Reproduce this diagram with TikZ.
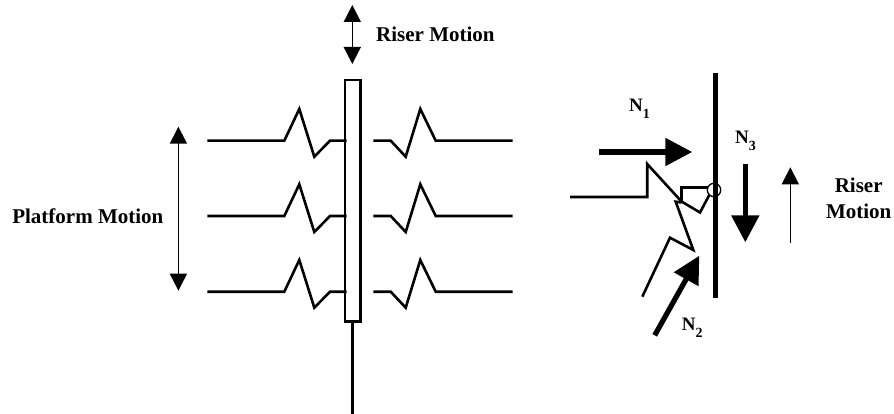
\documentclass[tikz,border=0pt]{standalone}
\usepackage{fontspec}
\setmainfont{Liberation Serif}
\usetikzlibrary{arrows.meta}
\tikzset{
  wire/.style={line width=2.6pt,line join=miter,black},
  thin arrow/.style={line width=1.6pt,-{Triangle[length=17pt,width=17pt]}},
  thin double/.style={line width=1.6pt,{Triangle[length=17pt,width=17pt]}-{Triangle[length=17pt,width=17pt]}},
  fat arrow/.style={line width=5.2pt,-{Triangle[length=27pt,width=27pt]}},
  lab/.style={font=\fontsize{21}{26}\selectfont\bfseries,inner sep=0pt,align=center},
  forcelab/.style={font=\fontsize{19}{24}\selectfont\bfseries,inner sep=0pt,anchor=base west},
}
\newcommand{\leftspring}[1]{%
  \draw[wire] (207.3,#1) -- (284.3,#1) -- (299.3,#1-31.7) -- (314.3,#1+16) -- (330,#1) -- (346.7,#1);}
\newcommand{\rightspring}[1]{%
  \draw[wire] (373.3,#1) -- (390.7,#1) -- (405.7,#1+16) -- (420.3,#1-31.7) -- (435.7,#1) -- (512.7,#1);}
\newcommand{\forcesub}[1]{\raisebox{-7pt}{\fontsize{14}{14}\selectfont #1}}
\begin{document}
\begin{tikzpicture}[x=1pt,y=-1pt]
\useasboundingbox (0,0) rectangle (894,414);
% left assembly
\coordinate (rtop) at (352.3,5);
\coordinate (rbot) at (352.3,64);
\draw[thin double] (rbot) -- (rtop);
\node[lab,anchor=west] (risertop) at (376,34) {Riser Motion};
\node[lab] (platform) at (87.8,216) {Platform Motion};
\coordinate (ptop) at (178.4,126.7);
\coordinate (pbot) at (178.4,290.7);
\draw[thin double] (pbot) -- (ptop);
\foreach \r in {140.7,216,291.7}{\leftspring{\r}\rightspring{\r}}
\node[draw=black,line width=2.6pt,outer sep=0pt,minimum width=15.3pt,minimum height=241.7pt,inner sep=0pt,anchor=north] (riser) at (352.7,80) {};
\coordinate (rend) at (352.7,414);
\draw[wire] (riser.south) -- (rend);
% right assembly
\coordinate (walltop) at (715,73.3);
\coordinate (wallbot) at (715,298.3);
\draw[line width=5pt] (walltop) -- (wallbot);
\coordinate (n1a) at (599,152); \coordinate (n1b) at (692.3,152);
\draw[fat arrow] (n1a) -- (n1b);
\coordinate (n2a) at (654.7,335.3); \coordinate (n2b) at (699.3,255.7);
\draw[fat arrow] (n2a) -- (n2b);
\coordinate (n3a) at (745.3,164.3); \coordinate (n3b) at (745.3,242.3);
\draw[fat arrow] (n3a) -- (n3b);
\coordinate (ma) at (790.3,243.3); \coordinate (mb) at (790.3,167.3);
\draw[thin arrow] (ma) -- (mb);
\draw[wire] (570,197) -- (647.2,197) -- (647.2,164) -- (681.5,201.5);
\draw[wire] (708,187.5) -- (681.5,187.5) -- (681.5,201.5) -- (700,212.5) -- (709.3,195);
\draw[wire] (681.5,202.5) -- (675.7,201.7) -- (693.3,250) -- (670,237.7) -- (642.3,296.7);
\node[draw=black,line width=1.3pt,circle,minimum size=13.4pt,inner sep=0pt] (contact) at (714,190) {};
\node[forcelab] (n1) at (629,112) {N\forcesub{1}};
\node[forcelab] (n3) at (735,143.3) {N\forcesub{3}};
\node[forcelab] (n2) at (681.7,330.7) {N\forcesub{2}};
\node[lab] (rm) at (858.7,198) {Riser\\Motion};
\end{tikzpicture}
\end{document}
